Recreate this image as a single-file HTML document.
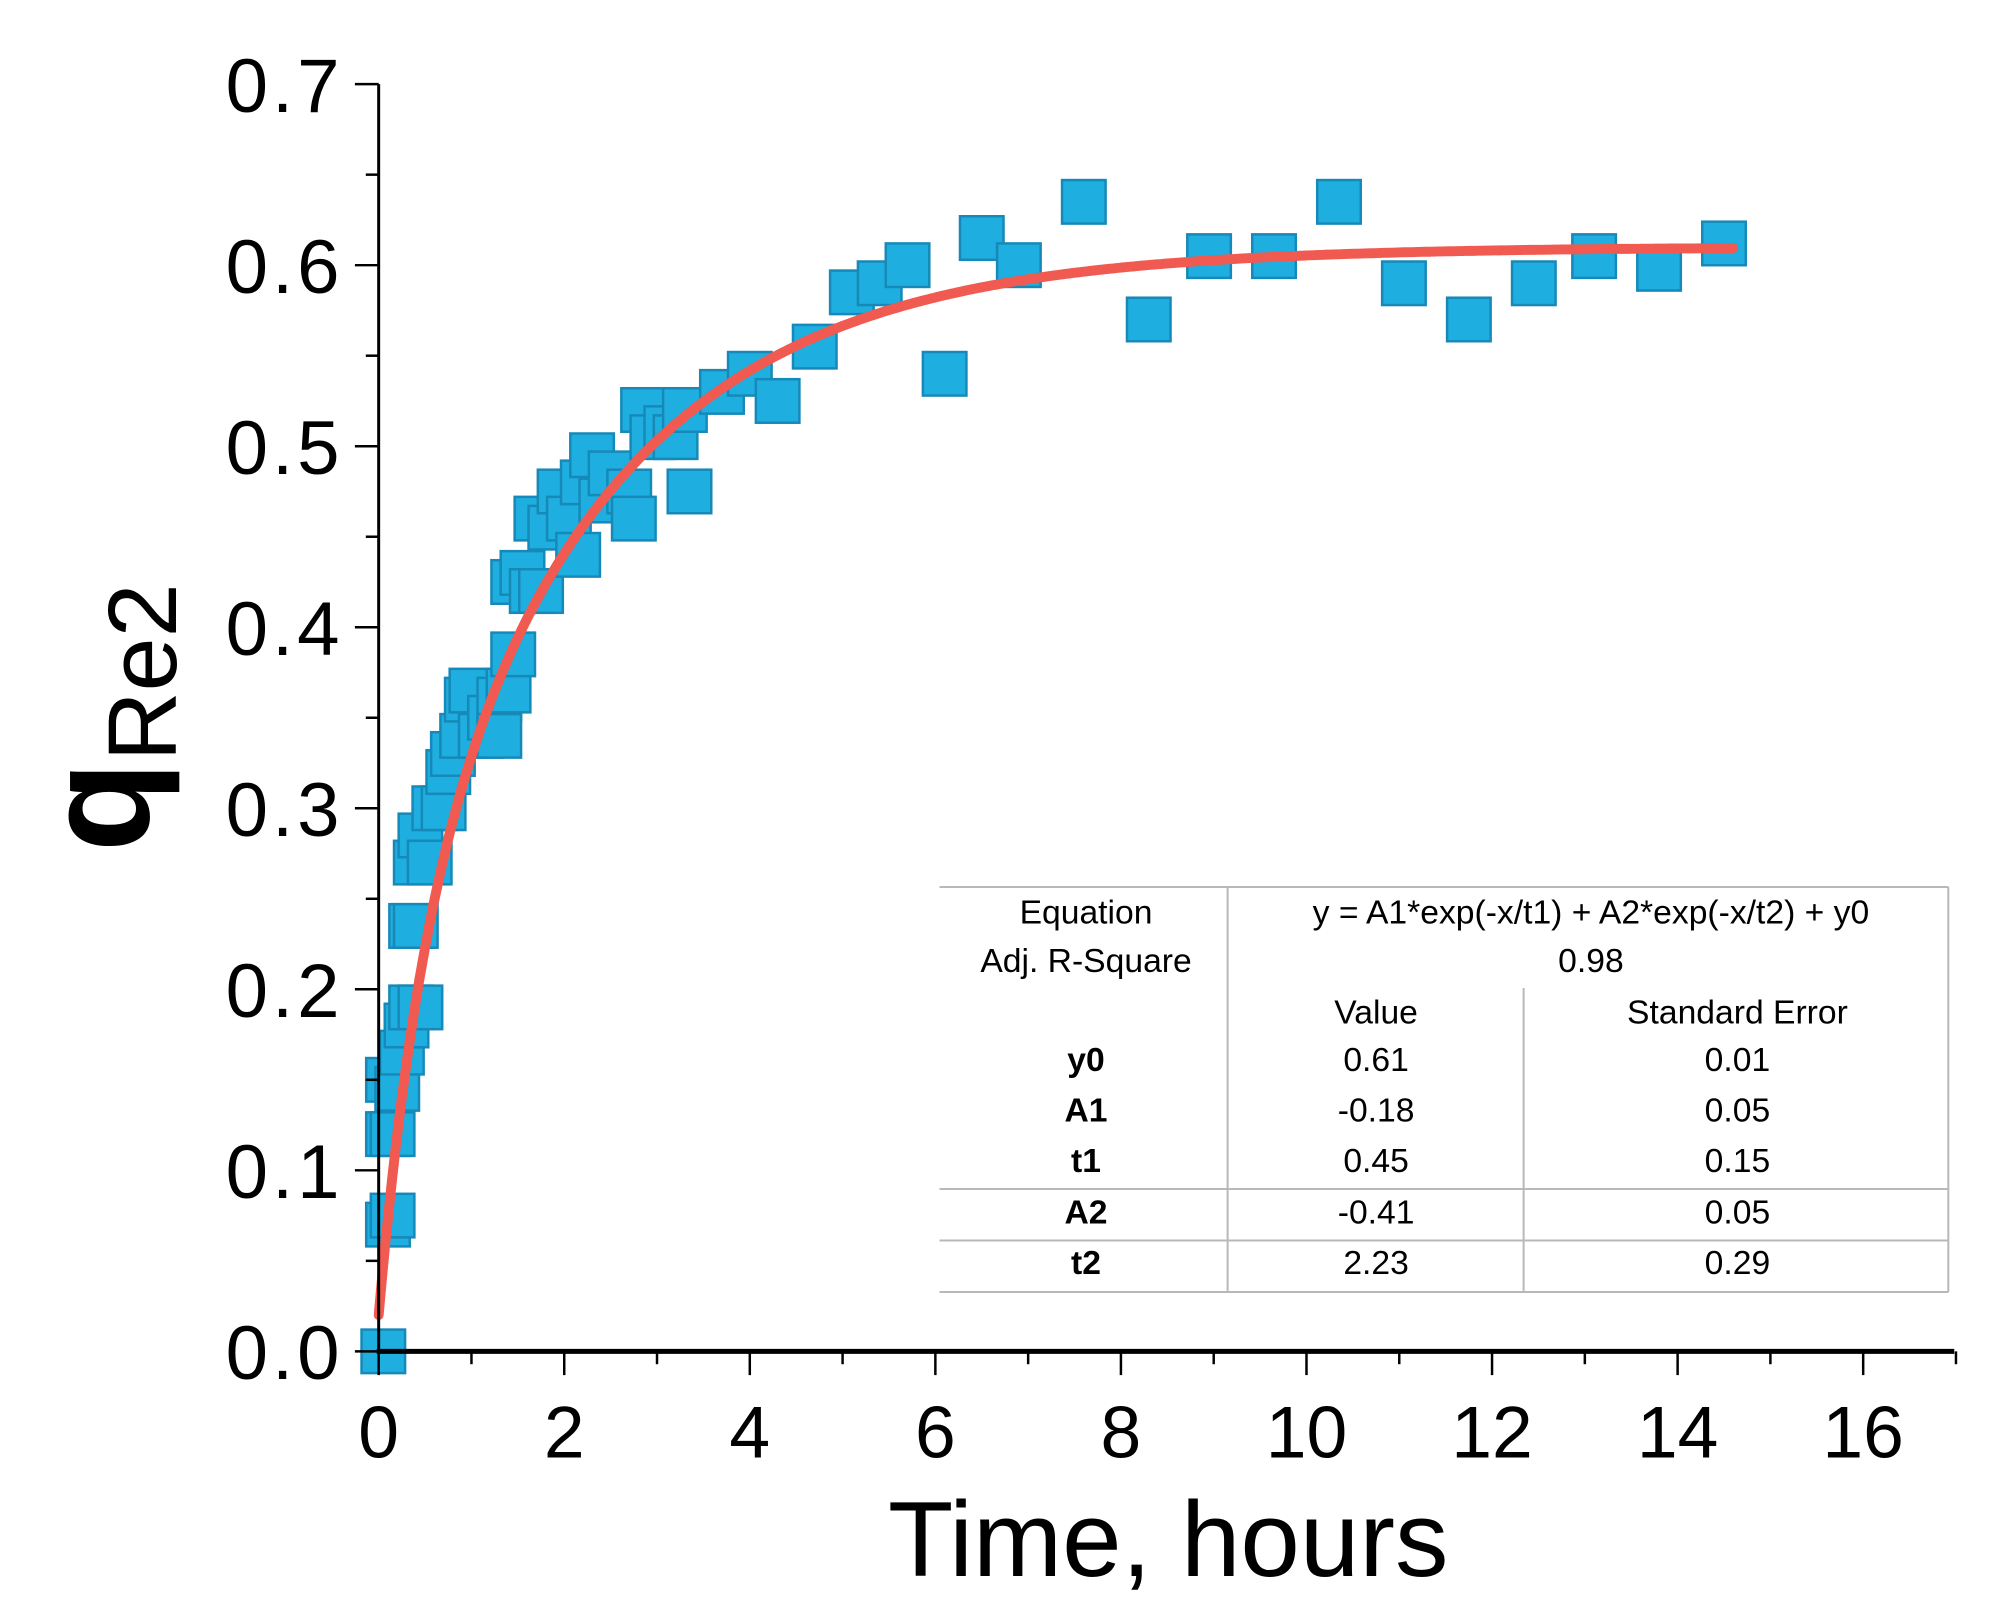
<!DOCTYPE html>
<html><head><meta charset="utf-8"><style>
html,body{margin:0;padding:0;background:#fff;}
svg{display:block;}
text{font-family:"Liberation Sans",Arial,sans-serif;}
</style></head><body>
<svg id="chart" width="2000" height="1616" viewBox="0 0 2000 1616" xmlns="http://www.w3.org/2000/svg">
<g transform="scale(0.99)">
<g id="marks"></g>
<g id="axes"></g>
<g id="table"></g>
</g>
</svg>
<script>
const xs = [0.05,0.1,0.15,0.1,0.15,0.1,0.2,0.25,0.3,0.35,0.45,0.35,0.4,0.4,0.45,0.55,0.6,0.7,0.75,0.8,0.9,0.95,1.0,1.1,1.2,1.3,1.4,1.45,1.3,1.45,1.55,1.65,1.75,1.7,1.85,1.95,2.05,2.15,2.2,2.3,2.4,2.5,2.7,2.75,2.85,2.95,3.1,3.2,3.3,3.35,3.7,4.0,4.3,4.7,5.1,5.4,5.7,6.1,6.5,6.9,7.6,8.3,8.95,9.65,10.35,11.05,11.75,12.45,13.1,13.8,14.5];
const ys = [0.0,0.07,0.075,0.12,0.12,0.15,0.145,0.165,0.18,0.19,0.19,0.235,0.235,0.27,0.285,0.27,0.3,0.3,0.32,0.33,0.34,0.36,0.365,0.34,0.35,0.36,0.365,0.385,0.34,0.425,0.43,0.42,0.42,0.46,0.455,0.475,0.46,0.44,0.48,0.495,0.47,0.485,0.475,0.46,0.52,0.505,0.51,0.505,0.52,0.475,0.53,0.54,0.525,0.555,0.585,0.59,0.6,0.54,0.615,0.6,0.635,0.57,0.605,0.605,0.635,0.59,0.57,0.59,0.605,0.598,0.612];
const fitParams = [0.61,-0.18,0.45,-0.41,2.23]; // y0, A1, t1, A2, t2
const xTicks = [0,2,4,6,8,10,12,14,16];
const yTicks = [0.0,0.1,0.2,0.3,0.4,0.5,0.6,0.7];
const yTickLabels = ["0.0","0.1","0.2","0.3","0.4","0.5","0.6","0.7"];
const tableRows = [["y0","0.61","0.01"],["A1","-0.18","0.05"],["t1","0.45","0.15"],["A2","-0.41","0.05"],["t2","2.23","0.29"]];

const NS="http://www.w3.org/2000/svg";
const X0=382.5, XS=(1882-382.5)/16, Y0=1365, YS=(1365-85)/0.7;
const sx=v=>X0+v*XS, sy=v=>Y0-v*YS;
function mk(tag,attrs,parent,txt){const e=document.createElementNS(NS,tag);for(const k in attrs)e.setAttribute(k,attrs[k]);if(txt!==undefined)e.textContent=txt;parent.appendChild(e);return e;}
const marks=document.getElementById('marks'), axes=document.getElementById('axes'), tbl=document.getElementById('table');

const ms=44;
for(let i=0;i<xs.length;i++){
  const r=mk('rect',{x:sx(xs[i])-ms/2,y:sy(ys[i])-ms/2,width:ms,height:ms,fill:'#1eaedf',stroke:'#1689b8','stroke-width':2.5},marks);
  
  
}
let d='';
for(let i=0;i<=400;i++){const x=14.6*i/400;const [y0,A1,t1,A2,t2]=fitParams;const y=y0+A1*Math.exp(-x/t1)+A2*Math.exp(-x/t2);d+=(i?'L':'M')+sx(x).toFixed(1)+','+sy(y).toFixed(1);}
const fc=mk('path',{d:d,fill:'none',stroke:'#f05a50','stroke-width':10,'stroke-linecap':'round'},marks);



const ya=mk('line',{x1:X0,y1:85,x2:X0,y2:Y0+2,stroke:'#000','stroke-width':3},axes);


const xa=mk('line',{x1:X0-2,y1:Y0,x2:1974,y2:Y0,stroke:'#000','stroke-width':5},axes);


for(let i=0;i<=14;i++){const v=i*0.05;const major=i%2===0;mk('line',{x1:X0,y1:sy(v),x2:X0-(major?24:13),y2:sy(v),stroke:'#000','stroke-width':2.5},axes);}
yTicks.forEach((v,i)=>{const t=mk('text',{x:347,y:sy(v)+28,'text-anchor':'end','font-size':77,'letter-spacing':4,fill:'#000'},axes,yTickLabels[i]);});
for(let i=0;i<=17;i++){const major=i%2===0;mk('line',{x1:sx(i),y1:Y0,x2:sx(i),y2:Y0+(major?24:13),stroke:'#000','stroke-width':2.5},axes);}
xTicks.forEach(v=>{const t=mk('text',{x:sx(v),y:1472,'text-anchor':'middle','font-size':74,fill:'#000'},axes,String(v));});
const xt=mk('text',{x:1180,y:1592,'text-anchor':'middle','font-size':108,fill:'#000'},axes,'Time, hours');


const yt=mk('text',{x:0,y:0,transform:'translate(150,725) rotate(-90)','text-anchor':'middle','font-size':150,'font-weight':'bold',fill:'#000'},axes);


mk('tspan',{},yt,'q');
mk('tspan',{dy:28,'font-size':98,'font-weight':'normal'},yt,'Re2');

const L=949,R=1968,C1=1240,C2=1539,T=896,B=1305;
const g='#b8b8b8';
mk('line',{x1:L,y1:T,x2:R,y2:T,stroke:g,'stroke-width':2},tbl);
mk('line',{x1:L,y1:B,x2:R,y2:B,stroke:g,'stroke-width':2},tbl);
mk('line',{x1:R,y1:T,x2:R,y2:B,stroke:g,'stroke-width':2},tbl);
mk('line',{x1:C1,y1:T,x2:C1,y2:B,stroke:g,'stroke-width':2},tbl);
mk('line',{x1:C2,y1:998,x2:C2,y2:B,stroke:g,'stroke-width':2},tbl);
mk('line',{x1:L,y1:1201,x2:R,y2:1201,stroke:g,'stroke-width':2},tbl);
mk('line',{x1:L,y1:1253,x2:R,y2:1253,stroke:g,'stroke-width':2},tbl);
const fs=34;
mk('text',{x:1097,y:933,'text-anchor':'middle','font-size':fs},tbl,'Equation');
mk('text',{x:1097,y:982,'text-anchor':'middle','font-size':fs},tbl,'Adj. R-Square');
mk('text',{x:1607,y:933,'text-anchor':'middle','font-size':fs},tbl,'y = A1*exp(-x/t1) + A2*exp(-x/t2) + y0');
mk('text',{x:1607,y:982,'text-anchor':'middle','font-size':fs},tbl,'0.98');
mk('text',{x:1390,y:1034,'text-anchor':'middle','font-size':fs},tbl,'Value');
mk('text',{x:1755,y:1034,'text-anchor':'middle','font-size':fs},tbl,'Standard Error');
const rowY=[1082,1133,1184,1236,1287];
tableRows.forEach((r,i)=>{
  mk('text',{x:1097,y:rowY[i],'text-anchor':'middle','font-size':fs,'font-weight':'bold'},tbl,r[0]);
  mk('text',{x:1390,y:rowY[i],'text-anchor':'middle','font-size':fs},tbl,r[1]);
  mk('text',{x:1755,y:rowY[i],'text-anchor':'middle','font-size':fs},tbl,r[2]);
});
</script>
</body></html>
